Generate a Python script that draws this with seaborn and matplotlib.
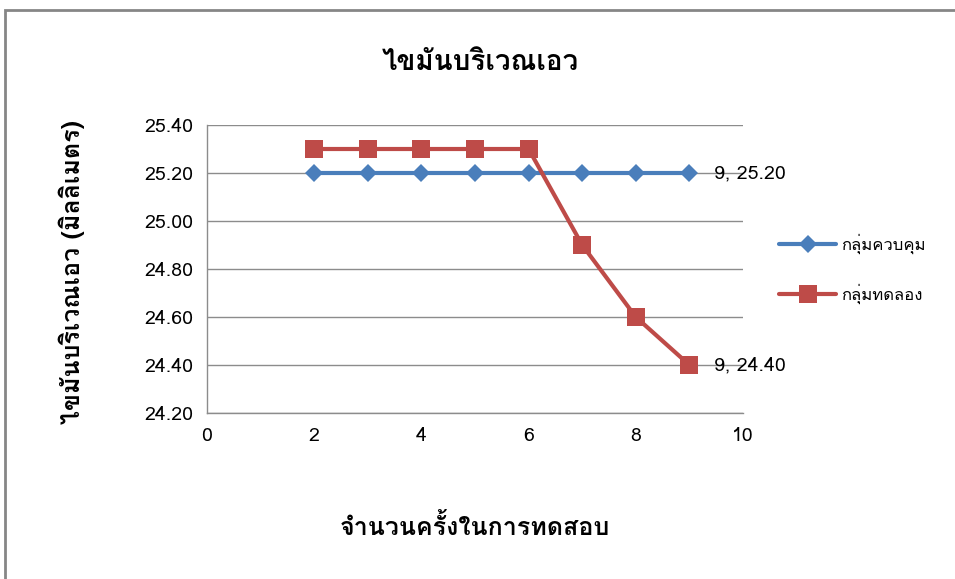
import matplotlib
matplotlib.use("Agg")
import matplotlib.pyplot as plt
from matplotlib import font_manager
from matplotlib.ft2font import FT2Font
from matplotlib.patches import Rectangle
import seaborn as sns
import pandas as pd

# ---- data ----
x_trials = [2, 3, 4, 5, 6, 7, 8, 9]
control = [25.20, 25.20, 25.20, 25.20, 25.20, 25.20, 25.20, 25.20]
treatment = [25.30, 25.30, 25.30, 25.30, 25.30, 24.90, 24.60, 24.40]
series_names = ["กลุ่มควบคุม", "กลุ่มทดลอง"]
title = "ไขมันบริเวณเอว"
xlabel = "จำนวนครั้งในการทดสอบ"
ylabel = "ไขมันบริเวณเอว (มิลลิเมตร)"
yticks = [24.20, 24.40, 24.60, 24.80, 25.00, 25.20, 25.40]
xticks = [0, 2, 4, 6, 8, 10]

# find a font with Thai glyphs
thai_font = None
for f in font_manager.fontManager.ttflist:
    try:
        cm = FT2Font(f.fname).get_charmap()
        if 0x0E44 in cm and 0x0E21 in cm:
            thai_font = f.name
            break
    except Exception:
        pass

sns.set_theme(style="white")
fams = ["DejaVu Sans"]
if thai_font:
    fams = [thai_font, "DejaVu Sans"]
plt.rcParams["font.family"] = fams
plt.rcParams["text.color"] = "black"

df = pd.DataFrame({
    "x": x_trials * 2,
    "y": control + treatment,
    "group": [series_names[0]] * len(x_trials) + [series_names[1]] * len(x_trials),
})

fig = plt.figure(figsize=(9.55, 5.79), dpi=100)
ax = fig.add_axes([207 / 955, 1 - 413 / 579, 536 / 955, 288 / 579])

colors = {series_names[0]: "#4A7EBB", series_names[1]: "#BE4B48"}
markers = {series_names[0]: "D", series_names[1]: "s"}
sizes = {series_names[0]: 9, series_names[1]: 13}
for name in series_names:
    sub = df[df["group"] == name]
    sns.lineplot(data=sub, x="x", y="y", ax=ax, color=colors[name], lw=3,
                 marker=markers[name], markersize=sizes[name],
                 markeredgewidth=0, label=name, zorder=3)

ax.set_xlim(0, 10)
ax.set_ylim(24.20, 25.40)
ax.set_xticks(xticks)
ax.set_yticks(yticks)
ax.set_xticklabels([str(v) for v in xticks], fontsize=14)
ax.set_yticklabels([f"{v:.2f}" for v in yticks], fontsize=14)
ax.tick_params(axis="both", length=0, pad=10, colors="black")
ax.grid(axis="y", color="#8C8C8C", lw=1)
for s in ["top", "right"]:
    ax.spines[s].set_visible(False)
for s in ["left", "bottom"]:
    ax.spines[s].set_color("#8C8C8C")
    ax.spines[s].set_linewidth(1)
ax.set_xlabel("")
ax.set_ylabel("")

# data labels
ax.annotate(f"{x_trials[-1]}, {control[-1]:.2f}", (x_trials[-1], control[-1]),
            xytext=(18, 0), textcoords="offset points", va="center", fontsize=14)
ax.annotate(f"{x_trials[-1]}, {treatment[-1]:.2f}", (x_trials[-1], treatment[-1]),
            xytext=(18, 0), textcoords="offset points", va="center", fontsize=14)

fig.text(480 / 955, 1 - 62 / 579, title, ha="center", va="center", fontsize=20, fontweight="bold")
fig.text(475 / 955, 1 - 527 / 579, xlabel, ha="center", va="center", fontsize=18, fontweight="bold")
fig.text(72 / 955, 1 - 272 / 579, ylabel, ha="center", va="center", fontsize=18,
         fontweight="bold", rotation=90)

leg = ax.legend(loc="center left", bbox_to_anchor=(1.04, 0.5), frameon=False,
                fontsize=12, handlelength=3.4, labelspacing=1.8, handletextpad=0.3)

fig.patches.append(Rectangle((5 / 955, -0.1), 1.2, 1 - 10 / 579 + 0.1, transform=fig.transFigure,
                             fill=False, edgecolor="#868686", lw=2))

fig.savefig("out.png", dpi=100)
